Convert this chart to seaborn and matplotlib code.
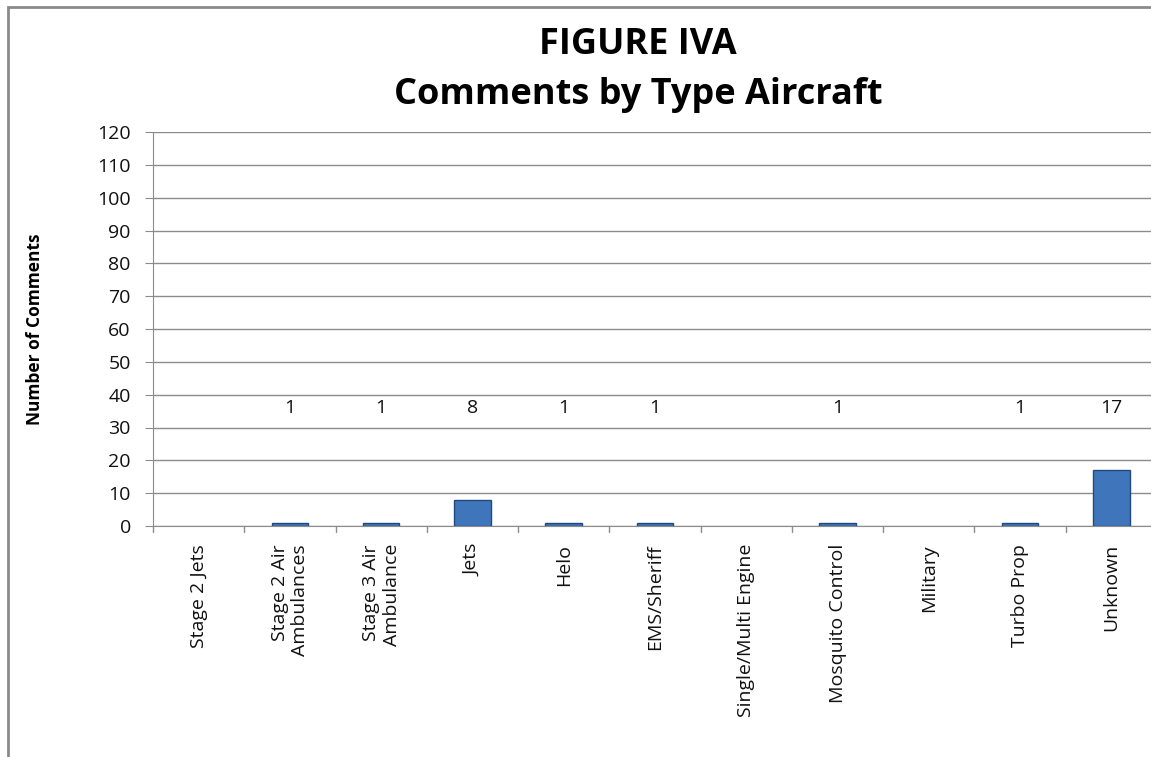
import seaborn as sns
import pandas as pd
import matplotlib.pyplot as plt
from matplotlib.patches import Rectangle

categories = ["Stage 2 Jets", "Stage 2 Air\nAmbulances", "Stage 3 Air\nAmbulance", "Jets", "Helo",
              "EMS/Sheriff", "Single/Multi Engine", "Mosquito Control", "Military", "Turbo Prop", "Unknown"]
comments = [0, 1, 1, 8, 1, 1, 0, 1, 0, 1, 17]
label_height = 36

df = pd.DataFrame({"type": categories, "count": comments})

sns.set_style("white")
plt.rcParams['font.family'] = ['Open Sans', 'DejaVu Sans']

fig = plt.figure(figsize=(11.51, 7.57), dpi=100)
ax = fig.add_axes([153/1151, 1-526/757, 1004/1151, 394/757])

sns.barplot(data=df, x="type", y="count", color="#3f75ba", width=0.4,
            edgecolor="#23497c", linewidth=1, saturation=1, ax=ax)
# empty categories get no visible bar
for p, v in zip(ax.patches, comments):
    if v == 0:
        p.set_visible(False)

# value labels sit at a fixed height like the original
for i, v in enumerate(comments):
    if v > 0:
        ax.text(i, label_height, str(v), ha="center", va="center", fontsize=14, color="#111111")

ax.set_ylim(0, 120)
ax.set_xlim(-0.5, len(categories) - 0.5)
ax.set_yticks(range(0, 121, 10))
ax.yaxis.grid(True, color="#8c8c8c", linewidth=1)
ax.set_axisbelow(True)
ax.set_xlabel("")
ax.set_ylabel("Number of Comments", fontsize=12.5, fontweight="bold", labelpad=38, color="black")

ax.set_xticks(range(len(categories)))
ax.set_xticklabels(categories, rotation=90, fontsize=14, va="top", ha="center", multialignment="right")
ax.tick_params(axis="x", length=0, pad=13)
ax.tick_params(axis="y", length=6, direction="out", color="#8c8c8c", labelsize=14, pad=10, left=True)
ax.tick_params(labelcolor="#111111")

# boundary ticks between categories
for b in [i - 0.5 for i in range(len(categories) + 1)]:
    ax.plot([b, b], [0, -1.8], color="#8c8c8c", linewidth=1, clip_on=False)

for s in ["top", "right"]:
    ax.spines[s].set_visible(False)
ax.spines["left"].set_color("#8c8c8c")
ax.spines["bottom"].set_color("#8c8c8c")

fig.text(638/1151, 1-45/757, "FIGURE IVA", ha="center", va="center", fontsize=26, fontweight="bold", color="black")
fig.text(638/1151, 1-95/757, "Comments by Type Aircraft", ha="center", va="center", fontsize=26, fontweight="bold", color="black")

# outer chart frame (cropped at right and bottom)
fig.patches.append(Rectangle((8/1151, -0.1), 1.2, 1 - 7/757 + 0.1, transform=fig.transFigure,
                             fill=False, edgecolor="#8a8a8a", linewidth=2))

fig.savefig("out.png", dpi=100)
